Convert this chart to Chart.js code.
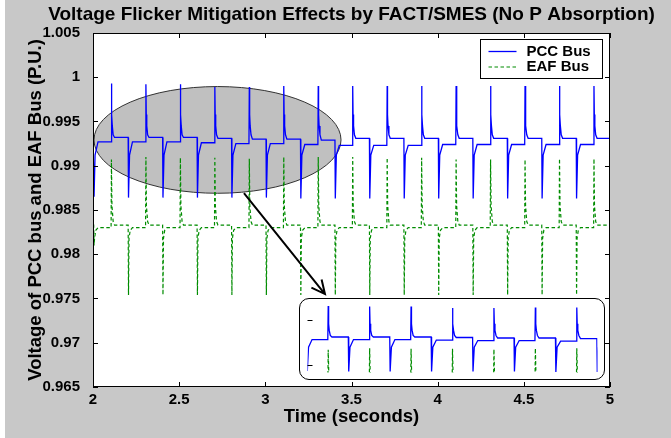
<!DOCTYPE html>
<html>
<head>
<meta charset="utf-8">
<script src="https://cdn.jsdelivr.net/npm/chart.js@4.4.1/dist/chart.umd.min.js"></script>
<style>
  body { margin: 0; background: #fff; }
  #wrap { position: relative; width: 671px; height: 438px;
          background: linear-gradient(to right, #fff 0 5px, #c8c8c8 5px); }
  #main { position: absolute; left: 0; top: 0; }
  #inset { position: absolute; left: 299px; top: 298px; width: 306px; height: 82px;
           box-sizing: border-box; border: 1.5px solid #000; border-radius: 10px;
           background: #fff; overflow: hidden; }
  #insetChart { position: absolute; left: 0; top: 0; }
</style>
</head>
<body>
<div id="wrap">
  <canvas id="main" width="671" height="438"></canvas>
  <div id="inset"><canvas id="insetChart" width="303" height="79"></canvas></div>
</div>
<script>
// text
const titleText = "Voltage Flicker Mitigation Effects by FACT/SMES (No P Absorption)";
const xTitle = "Time (seconds)";
const yTitle = "Voltage of PCC bus and EAF Bus (P.U.)";
const seriesNames = ["PCC Bus", "EAF Bus"];

// axes
const xTicks = [2, 2.5, 3, 3.5, 4, 4.5, 5];
const yTicks = [0.965, 0.97, 0.975, 0.98, 0.985, 0.99, 0.995, 1, 1.005];
const yTickLabels = ["0.965", "0.97", "0.975", "0.98", "0.985", "0.99", "0.995", "1", "1.005"];

// flicker events (s)
const dipTimes = [2.004, 2.204, 2.404, 2.604, 2.804, 3.004, 3.204, 3.404, 3.604, 3.804, 4.004, 4.204, 4.404, 4.604, 4.804];
const spikeTimes = [2.105, 2.305, 2.505, 2.705, 2.905, 3.105, 3.305, 3.505, 3.705, 3.905, 4.105, 4.305, 4.505, 4.705, 4.905];

// PCC bus (P.U.)
const pccStart = 0.9931;
const pccDips = [0.9865, 0.9864, 0.9864, 0.9864, 0.9864, 0.9864, 0.9863, 0.9863, 0.9863, 0.9863, 0.9863, 0.9863, 0.9863, 0.9863, 0.9863];
const pccLows = [0.9927, 0.9927, 0.9927, 0.9926, 0.9925, 0.9925, 0.9924, 0.9923, 0.9923, 0.9923, 0.9924, 0.9924, 0.9924, 0.9924, 0.9924];
const pccPeaks = [0.9993, 0.9992, 0.9992, 0.9989, 0.9989, 0.9990, 0.9990, 0.9990, 0.9990, 0.9990, 0.9990, 0.9990, 0.9990, 0.9990, 0.9990];
const pccHighs = [0.9932, 0.9932, 0.9932, 0.9931, 0.9930, 0.9930, 0.9929, 0.9931, 0.9931, 0.9931, 0.9931, 0.9931, 0.9931, 0.9931, 0.9931];
const pccDipTail = [[0.008, 0.9912]];
const pccSpikeTail = [[0.004, 0.9958], [0.007, 0.9945], [0.012, 0.9935]];

// EAF bus (P.U.)
const eafStart = 0.9833;
const eafDips = [0.9810, 0.9754, 0.9754, 0.9754, 0.9754, 0.9754, 0.9754, 0.9754, 0.9754, 0.9754, 0.9754, 0.9754, 0.9754, 0.9754, 0.9754];
const eafLows = [0.9830, 0.9830, 0.9830, 0.9830, 0.9830, 0.9830, 0.9830, 0.9830, 0.9830, 0.9830, 0.9830, 0.9830, 0.9830, 0.9830, 0.9830];
const eafPeaks = [0.9907, 0.9910, 0.9909, 0.9909, 0.9908, 0.9910, 0.9910, 0.9910, 0.9909, 0.9909, 0.9907, 0.9907, 0.9907, 0.9908, 0.9908];
const eafHighs = [0.9833, 0.9833, 0.9833, 0.9833, 0.9833, 0.9833, 0.9833, 0.9833, 0.9833, 0.9833, 0.9833, 0.9833, 0.9833, 0.9833, 0.9833];
const eafDipTail = [[0.005, 0.9818], [0.012, 0.9827]];
const eafSpikeTail = [[0.005, 0.9855], [0.012, 0.9837]];

// annotation: oval around 2-3.4 s, arrow down to the zoom box
const zoomOval = { t: 2.7225, v: 0.99292, dt: 0.7167, dv: 0.00603 };
const arrowFrom = { t: 2.876, v: 0.9869 };
const arrowTo = { t: 3.346, v: 0.9755 };
const insetX = [2.007, 3.407];
const insetY = [0.9862, 1.0005];
const insetTickValues = [0.9965, 0.9876];

const FONT = '"Liberation Sans", Arial, sans-serif';
Chart.defaults.font.family = FONT;
Chart.defaults.color = "#000";

function buildSeries(start, dips, lows, peaks, highs, dipTail, spikeTail) {
  const pts = [{ x: 2, y: start }];
  let level = start;
  dipTimes.forEach((d, i) => {
    pts.push({ x: d, y: level });
    pts.push({ x: d + 0.002, y: dips[i] });
    dipTail.forEach(([dt, v]) => pts.push({ x: d + dt, y: v }));
    pts.push({ x: d + 0.025, y: lows[i] });
    const s = spikeTimes[i];
    pts.push({ x: s, y: lows[i] });
    pts.push({ x: s + 0.002, y: peaks[i] });
    spikeTail.forEach(([dt, v]) => pts.push({ x: s + dt, y: v }));
    pts.push({ x: s + 0.02, y: highs[i] });
    level = highs[i];
  });
  pts.push({ x: 5, y: level });
  return pts;
}

const pccData = buildSeries(pccStart, pccDips, pccLows, pccPeaks, pccHighs, pccDipTail, pccSpikeTail);
const eafData = buildSeries(eafStart, eafDips, eafLows, eafPeaks, eafHighs, eafDipTail, eafSpikeTail);

const BLUE = "#0000ff";
const GREEN = "rgb(0,140,0)";
const DASH = [3.5, 2.5];

function makeDatasets() {
  return [
    { label: seriesNames[0], data: pccData, borderColor: BLUE, borderWidth: 1.3,
      pointRadius: 0, tension: 0, fill: false },
    { label: seriesNames[1], data: eafData, borderColor: GREEN, borderWidth: 1.2,
      borderDash: DASH, pointRadius: 0, tension: 0, fill: false }
  ];
}

const decor = {
  id: "decor",
  beforeDraw(chart) {
    const { ctx, chartArea: a } = chart;
    ctx.save();
    ctx.fillStyle = "#fff";
    ctx.fillRect(a.left, a.top, a.right - a.left, a.bottom - a.top);
    ctx.fillStyle = "#000";
    ctx.font = "bold 19px " + FONT;
    ctx.textAlign = "center";
    ctx.textBaseline = "middle";
    ctx.fillText(titleText, (a.left + a.right) / 2, 15);
    ctx.restore();
  },
  beforeDatasetsDraw(chart) {
    const { ctx, scales: { x, y } } = chart;
    const cx = x.getPixelForValue(zoomOval.t), cy = y.getPixelForValue(zoomOval.v);
    const rx = x.getPixelForValue(zoomOval.t + zoomOval.dt) - cx;
    const ry = cy - y.getPixelForValue(zoomOval.v + zoomOval.dv);
    ctx.save();
    ctx.beginPath();
    ctx.ellipse(cx, cy, rx, ry, 0, 0, Math.PI * 2);
    ctx.fillStyle = "#c0c0c0";
    ctx.fill();
    ctx.strokeStyle = "#333";
    ctx.lineWidth = 1;
    ctx.stroke();
    ctx.restore();
  },
  afterDatasetsDraw(chart) {
    const { ctx, chartArea: a, scales: { x, y } } = chart;
    ctx.save();
    // arrow
    const x0 = x.getPixelForValue(arrowFrom.t), y0 = y.getPixelForValue(arrowFrom.v);
    const x1 = x.getPixelForValue(arrowTo.t), y1 = y.getPixelForValue(arrowTo.v);
    const ang = Math.atan2(y1 - y0, x1 - x0);
    ctx.strokeStyle = "#000";
    ctx.lineWidth = 2;
    ctx.beginPath();
    ctx.moveTo(x0, y0);
    ctx.lineTo(x1, y1);
    ctx.moveTo(x1 - 15 * Math.cos(ang - 0.45), y1 - 15 * Math.sin(ang - 0.45));
    ctx.lineTo(x1, y1);
    ctx.lineTo(x1 - 15 * Math.cos(ang + 0.45), y1 - 15 * Math.sin(ang + 0.45));
    ctx.stroke();

    // axes box with inward ticks
    ctx.lineWidth = 1;
    ctx.strokeRect(a.left + 0.5, a.top + 0.5, a.right - a.left - 1, a.bottom - a.top - 1);
    ctx.beginPath();
    xTicks.forEach(v => {
      const px = Math.round(x.getPixelForValue(v)) + 0.5;
      ctx.moveTo(px, a.bottom); ctx.lineTo(px, a.bottom - 5);
      ctx.moveTo(px, a.top); ctx.lineTo(px, a.top + 5);
    });
    yTicks.forEach(v => {
      const py = Math.round(y.getPixelForValue(v)) + 0.5;
      ctx.moveTo(a.left, py); ctx.lineTo(a.left + 5, py);
      ctx.moveTo(a.right, py); ctx.lineTo(a.right - 5, py);
    });
    ctx.stroke();

    // legend
    const bx = a.right - 129.5, by = a.top + 6.5, bw = 122, bh = 39;
    ctx.fillStyle = "#fff";
    ctx.fillRect(bx, by, bw, bh);
    ctx.strokeRect(bx, by, bw, bh);
    ctx.font = "bold 15px " + FONT;
    ctx.textBaseline = "middle";
    ctx.textAlign = "left";
    chart.data.datasets.forEach((ds, i) => {
      const ry = by + 12 + i * 15.5;
      ctx.strokeStyle = ds.borderColor;
      ctx.lineWidth = ds.borderWidth;
      ctx.setLineDash(ds.borderDash || []);
      ctx.beginPath();
      ctx.moveTo(bx + 8, ry); ctx.lineTo(bx + 36, ry);
      ctx.stroke();
      ctx.setLineDash([]);
      ctx.fillStyle = "#000";
      ctx.fillText(ds.label, bx + 46, ry);
    });
    ctx.restore();
  }
};

new Chart(document.getElementById("main"), {
  type: "line",
  data: { datasets: makeDatasets() },
  options: {
    responsive: false,
    animation: false,
    layout: { padding: { top: 33, right: 61, bottom: 0, left: 0 } },
    plugins: { legend: { display: false }, tooltip: { enabled: false }, title: { display: false } },
    scales: {
      x: {
        type: "linear", min: 2, max: 5,
        afterBuildTicks: s => { s.ticks = xTicks.map(v => ({ value: v })); },
        afterFit: s => { s.height = 51; },
        grid: { display: false }, border: { display: false },
        ticks: { font: { size: 15, weight: "bold" }, padding: -4, maxRotation: 0,
                 callback: v => String(v) },
        title: { display: true, text: xTitle, font: { size: 18.5, weight: "bold" },
                 padding: { top: 0, bottom: 10 } }
      },
      y: {
        type: "linear", min: 0.965, max: 1.005,
        afterBuildTicks: s => { s.ticks = yTicks.map(v => ({ value: v })); },
        afterFit: s => { s.width = 93; },
        grid: { display: false }, border: { display: false },
        ticks: { font: { size: 15, weight: "bold" }, padding: 5,
                 callback: (v, i) => yTickLabels[i] },
        title: { display: true, text: yTitle, font: { size: 18.5, weight: "bold" },
                 padding: { top: 25, bottom: 0 } }
      }
    }
  },
  plugins: [decor]
});

// zoomed view of the oval region
const insetTicks = {
  id: "insetTicks",
  afterDatasetsDraw(chart) {
    const { ctx, chartArea: a, scales: { y } } = chart;
    ctx.save();
    ctx.strokeStyle = "#000";
    ctx.lineWidth = 1;
    ctx.beginPath();
    insetTickValues.forEach(v => {
      const py = Math.round(y.getPixelForValue(v)) + 0.5;
      ctx.moveTo(a.left, py); ctx.lineTo(a.left + 5, py);
    });
    ctx.stroke();
    ctx.restore();
  }
};

new Chart(document.getElementById("insetChart"), {
  type: "line",
  data: { datasets: makeDatasets() },
  options: {
    responsive: false,
    animation: false,
    layout: { padding: { left: 7.5, right: 5.5, top: 1, bottom: 5.5 } },
    plugins: { legend: { display: false }, tooltip: { enabled: false } },
    scales: {
      x: { type: "linear", display: false, min: insetX[0], max: insetX[1] },
      y: { type: "linear", display: false, min: insetY[0], max: insetY[1] }
    }
  },
  plugins: [insetTicks]
});
</script>
</body>
</html>
